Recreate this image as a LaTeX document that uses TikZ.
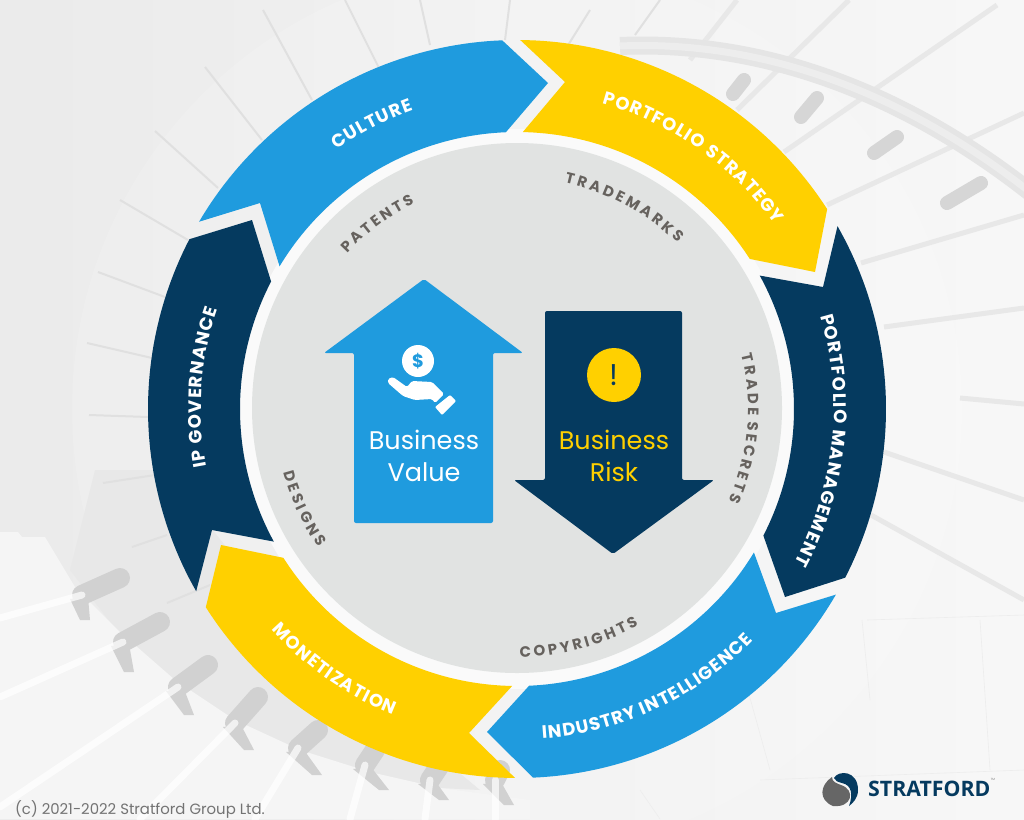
\documentclass[tikz,border=0pt]{standalone}
\usepackage{fontspec}
\setmainfont{Poppins}
\newfontfamily\logofont{Open Sans}
\usetikzlibrary{
  positioning,
  decorations.text
}
\definecolor{cblue}{HTML}{1F9BDE}
\definecolor{cnavy}{HTML}{053A5F}
\definecolor{cyellow}{HTML}{FFD000}
\definecolor{cdisc}{HTML}{E1E3E2}
\definecolor{clabel}{HTML}{66625E}

% one arrow of the ring: colour, tail angles (outer, inner), head angle, notch, tip
\newcommand{\ribbon}[6]{%
  \fill[#1] (#5) -- plot[domain=#2:#4,samples=50,variable=\t] ({517+369*cos(\t)},{409+369*sin(\t)})
    -- (#6) -- plot[domain=#4:#3,samples=50,variable=\t] ({517+277*cos(\t)},{409+277*sin(\t)}) -- cycle;
}
% text on a circle round the ring centre: radius, from angle, to angle, colour, size, text
\newcommand{\arclabel}[6]{%
  \path[decorate,decoration={text along path,text align=center,text color=#4,
    text={|\fontsize{#5}{#5}\selectfont\bfseries|#6}}]
    plot[domain=#2:#3,samples=40,variable=\t] ({517+#1*cos(\t)},{409+#1*sin(\t)});
}
\newcommand{\Kr}{\kern1.1pt}
\newcommand{\Ki}{\kern3pt}
\newcommand{\Ks}{\kern6pt}

\begin{document}
\begin{tikzpicture}[
  x=1pt,y=-1pt,
  stairedge/.style={draw=black!12,line width=2pt},
  stairwide/.style={draw=black!9,line width=5pt},
  stairfaint/.style={draw=black!7,line width=0.6pt},
  rod/.style={draw=white,opacity=.7,line width=7pt,line cap=round},
  arrowtext/.style={align=center,font=\fontsize{25.5}{32}\selectfont}
]

\shade[use as bounding box,shading angle=150,left color=black!8,right color=black!3] (0,0) rectangle (1024,819);

% Photo behind the ring
\fill[white,opacity=.15] (517,409) circle[radius=445];
\fill[black!9] (95,470) -- (165,470) -- (300,640) -- (480,790) -- (380,785) -- (230,725) -- (120,635) -- (70,570) -- cycle;
\fill[black!4] (0,532) -- (18,532) -- (22,537) -- (45,537) -- (75,587) -- (120,632) -- (175,680) -- (235,720) -- (300,750) -- (370,772) -- (440,788) -- (530,800) -- (530,819) -- (0,819) -- cycle;
\foreach \ax/\ay/\bx/\by in {263/10/312/100,205/67/262/140,155/131/218/188,120/200/188/240,98/272/165/297,87/343/152/358,89/415/148/417,103/483/155/475,132/547/167/535,167/603/210/585,
  345/0/380/70,420/0/430/45,510/0/505/40,590/10/565/50,660/0/635/35}
  \draw[stairedge] (\ax,\ay) -- (\bx,\by);
\foreach \ax/\ay/\bx/\by in {737/0/690/60,849/0/737/110,997/5/784/152,1024/113/827/205,1024/215/861/263,1024/308/884/327,1024/404/960/398,884/452/1024/500,871/515/1024/600}
  \draw[stairwide] (\ax,\ay) -- (\bx,\by);
\foreach \ax/\ay/\bx/\by in {867/620/1024/615,760/780/1024/770,862/620/870/700,745/680/770/770,640/790/660/819,980/620/990/770}
  \draw[stairfaint] (\ax,\ay) -- (\bx,\by);
\draw[black!10,line width=18pt] (620,46) .. controls (760,40) and (900,90) .. (1030,192);
\draw[black!7,line width=7pt] (620,46) .. controls (760,40) and (900,90) .. (1030,192);
\foreach \ax/\ay/\bx/\by in {744/80/733/94,817/98/801/117,897/137/874/153,981/183/947/203}
  \draw[black!16,line width=14pt,line cap=round] (\ax,\ay) -- (\bx,\by);
\foreach \hx/\hy/\mx/\my/\fx/\fy/\ex/\ey in {120/578/82/595/86/620/0/618,160/622/123/642/130/672/0/697,208/665/178/687/190/715/0/807,258/697/235/723/250/750/140/819,318/730/298/748/318/775/255/819,375/750/365/765/385/790/350/819,440/765/430/780/445/800/425/819,500/770/495/780/510/805/495/819}{
  \draw[black!18,line width=20pt,line cap=round] (\hx,\hy) -- (\mx,\my);
  \fill[black!18] (\mx-12,\my+4) -- (\mx+6,\my+2) -- (\fx+4,\fy) -- (\fx-6,\fy) -- cycle;
  \draw[rod] (\mx,\my) -- (\ex,\ey);
}

% Centre disc
\fill[black!2] (517,409) circle[radius=280];
\fill[cdisc] (517,408) circle[radius=265];

% Ring
\ribbon{cblue}{210.5}{211}{267.7}{260,203}{548,83}
\ribbon{cyellow}{270.5}{271.2}{327.2}{565,82}{815,272}
\ribbon{cnavy}{330.3}{331.2}{387.2}{823,287}{785,597}
\ribbon{cblue}{30.2}{31.2}{87.5}{776,613}{487,732}
\ribbon{cyellow}{90.3}{91}{147.5}{469,733}{221,545}
\ribbon{cnavy}{150.4}{151.4}{207.4}{212,530}{252,220}

\arclabel{316}{203}{283}{white}{18}{{C\Kr}{U\Kr}{L\Kr}{T\Kr}{U\Kr}{R\Kr}{E}}
\arclabel{317}{265}{345}{white}{18}{{P\Kr}{O\Kr}{R\Kr}{T\Kr}{F\Kr}{O\Kr}{L\Kr}{I\Kr}{O\Ks}{S\Kr}{T\Kr}{R\Kr}{A\Kr}{T\Kr}{E\Kr}{G\Kr}{Y}}
\arclabel{317}{-40}{52}{white}{18}{{P\Kr}{O\Kr}{R\Kr}{T\Kr}{F\Kr}{O\Kr}{L\Kr}{I\Kr}{O\Ks}{M\Kr}{A\Kr}{N\Kr}{A\Kr}{G\Kr}{E\Kr}{M\Kr}{E\Kr}{N\Kr}{T}}
\arclabel{331}{105}{25}{white}{18}{{I\Kr}{N\Kr}{D\Kr}{U\Kr}{S\Kr}{T\Kr}{R\Kr}{Y\Ks}{I\Kr}{N\Kr}{T\Kr}{E\Kr}{L\Kr}{L\Kr}{I\Kr}{G\Kr}{E\Kr}{N\Kr}{C\Kr}{E}}
\arclabel{330}{165}{85}{white}{18}{{M\Kr}{O\Kr}{N\Kr}{E\Kr}{T\Kr}{I\Kr}{Z\Kr}{A\Kr}{T\Kr}{I\Kr}{O\Kr}{N}}
\arclabel{316}{144}{224}{white}{18}{{I\Kr}{P\Ks}{G\Kr}{O\Kr}{V\Kr}{E\Kr}{R\Kr}{N\Kr}{A\Kr}{N\Kr}{C\Kr}{E}}

\arclabel{230}{198}{268}{clabel}{15}{{P\Ki}{A\Ki}{T\Ki}{E\Ki}{N\Ki}{T\Ki}{S}}
\arclabel{231}{263}{333}{clabel}{15}{{T\Ki}{R\Ki}{A\Ki}{D\Ki}{E\Ki}{M\Ki}{A\Ki}{R\Ki}{K\Ki}{S}}
\arclabel{231}{-30}{40}{clabel}{15}{{T\Ki}{R\Ki}{A\Ki}{D\Ki}{E\Ks}{S\Ki}{E\Ki}{C\Ki}{R\Ki}{E\Ki}{T\Ki}{S}}
\arclabel{248}{110}{40}{clabel}{15}{{C\Ki}{O\Ki}{P\Ki}{Y\Ki}{R\Ki}{I\Ki}{G\Ki}{H\Ki}{T\Ki}{S}}
\arclabel{242}{190}{120}{clabel}{15}{{D\Ki}{E\Ki}{S\Ki}{I\Ki}{G\Ki}{N\Ki}{S}}

% Centre arrows
\fill[cblue,rounded corners=2pt] (424,279) -- (523,353) -- (493,353) -- (493,523) -- (354,523) -- (354,353) -- (324,353) -- cycle;
\fill[cnavy,rounded corners=2pt] (545,311) -- (682,311) -- (682,480) -- (714,480) -- (613,554) -- (514,480) -- (545,480) -- cycle;

\node[arrowtext,text=white] (value) at (424,456) {Business\\Value};
\node[arrowtext,text=cyellow] (risk) at (614,456) {Business\\Risk};

\node[circle,fill=white,minimum size=32pt,inner sep=0pt,text=cblue,font=\fontsize{18}{18}\selectfont\bfseries] (coin) at (418,361) {\$};
\fill[white,rounded corners=1.5pt] (388,379) -- (393,377) -- (407,387) -- (412,381) -- (432,382) -- (444,394) -- (435,403) -- (432,399) -- (415,400) -- (403,396) -- (388,383) -- cycle;
\fill[white,rounded corners=1pt] (435,407) -- (450,395) -- (456,401) -- (442,415) -- cycle;
\node[circle,fill=cyellow,minimum size=54pt,inner sep=0pt,text=cnavy,font=\fontsize{30}{30}\selectfont] (warn) at (614,375) {!};

% Footer
\node[anchor=west,inner sep=0pt,text=black!55,font=\fontsize{14.9}{15}\selectfont] (copy) at (15,809) {(c) 2021-2022 Stratford Group Ltd.};
\fill[black!60] (832,777) .. controls (820,785) and (818,800) .. (833,806) .. controls (852,808) and (856,790) .. (841,785) .. controls (836,783) and (832,782) .. cycle;
\fill[cnavy] (834,778) .. controls (838,770) and (858,770) .. (858,790) .. controls (858,798) and (853,803) .. (849,806) .. controls (853,795) and (852,785) .. (842,783) .. controls (838,782) and (835,781) .. cycle;
\node[anchor=west,inner sep=0pt,text=cnavy,font=\logofont\fontsize{21.3}{22}\selectfont\bfseries] (logo) at (868,789) {STRATFORD};
\node[anchor=south west,inner sep=0pt,text=black!50,font=\fontsize{3}{3}\selectfont] (tm) at (logo.north east) {TM};

\end{tikzpicture}
\end{document}
